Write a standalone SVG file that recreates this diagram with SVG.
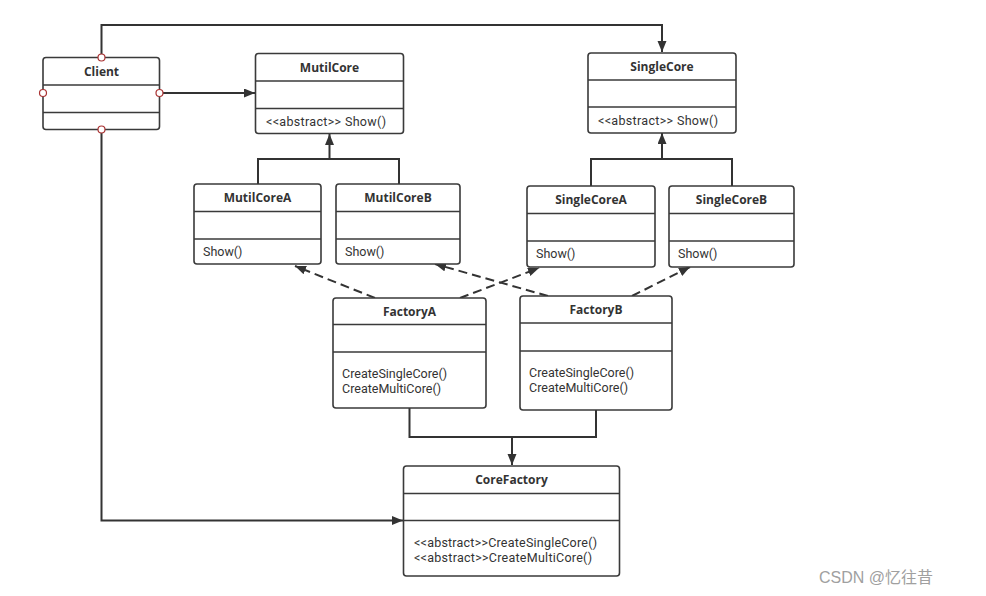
<svg xmlns="http://www.w3.org/2000/svg" width="986" height="596" viewBox="0 0 986 596">
<defs>
<marker id="arr" markerUnits="userSpaceOnUse" markerWidth="12" markerHeight="10" refX="11" refY="4.5" orient="auto">
<path d="M0,0 L11,4.5 L0,9 z" fill="#333"/>
</marker>
<style>
.box{fill:#fff;stroke:#3a3a3a;stroke-width:1.6}
.sep{stroke:#3a3a3a;stroke-width:1.6}
.t{font-family:"Open Sans","Noto Sans","Liberation Sans",sans-serif;font-size:12px;font-weight:bold;fill:#333;text-anchor:middle}
.m{font-family:Roboto,"Liberation Sans",sans-serif;font-size:12.5px;fill:#333}
.ln{fill:none;stroke:#333;stroke-width:2}
.dash{fill:none;stroke:#333;stroke-width:2;stroke-dasharray:9 5}
.pt{fill:#fff;stroke:#a33;stroke-width:1.2}
.wm{font-family:"Liberation Sans","Noto Sans CJK SC",sans-serif;font-size:16px;fill:#a0a0a0}
</style>
</defs>
<rect width="986" height="596" fill="#fff"/>

<g id="connectors">
<path class="ln" d="M101.5,57.5 V25 H662 V52" marker-end="url(#arr)"/>
<path class="ln" d="M159.5,93 H255" marker-end="url(#arr)"/>
<path class="ln" d="M101.5,129.5 V520.5 H403" marker-end="url(#arr)"/>
<path class="ln" d="M258,184 V159 H399 V184"/>
<path class="ln" d="M329.5,159 V134" marker-end="url(#arr)"/>
<path class="ln" d="M591,186 V159 H732 V186"/>
<path class="ln" d="M662,159 V133" marker-end="url(#arr)"/>
<path class="ln" d="M409.5,408 V437 H596 V410"/>
<path class="ln" d="M512,437 V465" marker-end="url(#arr)"/>
<path class="dash" d="M375,298 L295,266" marker-end="url(#arr)"/>
<path class="dash" d="M460,298 L539,268" marker-end="url(#arr)"/>
<path class="dash" d="M548,296 L435,264" marker-end="url(#arr)"/>
<path class="dash" d="M632,296 L690,267" marker-end="url(#arr)"/>
</g>

<g id="Client">
<rect class="box" x="43" y="57.5" width="116.5" height="72" rx="3"/>
<line class="sep" x1="43" y1="85" x2="159.5" y2="85"/>
<line class="sep" x1="43" y1="112.5" x2="159.5" y2="112.5"/>
<text class="t" x="101.5" y="75.5">Client</text>
<circle class="pt" cx="101.5" cy="57.5" r="3.5"/>
<circle class="pt" cx="43" cy="93" r="3.5"/>
<circle class="pt" cx="159.5" cy="93" r="3.5"/>
<circle class="pt" cx="101.5" cy="129.5" r="3.5"/>
</g>

<g id="MutilCore">
<rect class="box" x="255.5" y="53.5" width="148" height="80" rx="3"/>
<line class="sep" x1="255.5" y1="81" x2="403.5" y2="81"/>
<line class="sep" x1="255.5" y1="108.5" x2="403.5" y2="108.5"/>
<text class="t" x="329.5" y="71.5">MutilCore</text>
<text class="m" x="266" y="126" textLength="120" lengthAdjust="spacing">&lt;&lt;abstract&gt;&gt; Show()</text>
</g>

<g id="SingleCore">
<rect class="box" x="588" y="53" width="148" height="80" rx="3"/>
<line class="sep" x1="588" y1="80" x2="736" y2="80"/>
<line class="sep" x1="588" y1="107" x2="736" y2="107"/>
<text class="t" x="662" y="70.5">SingleCore</text>
<text class="m" x="598" y="125" textLength="120" lengthAdjust="spacing">&lt;&lt;abstract&gt;&gt; Show()</text>
</g>

<g id="MutilCoreA">
<rect class="box" x="194" y="184" width="127" height="80" rx="3"/>
<line class="sep" x1="194" y1="211.5" x2="321" y2="211.5"/>
<line class="sep" x1="194" y1="239" x2="321" y2="239"/>
<text class="t" x="257.5" y="202">MutilCoreA</text>
<text class="m" x="203" y="256">Show()</text>
</g>

<g id="MutilCoreB">
<rect class="box" x="336" y="184" width="124" height="80" rx="3"/>
<line class="sep" x1="336" y1="211.5" x2="460" y2="211.5"/>
<line class="sep" x1="336" y1="239" x2="460" y2="239"/>
<text class="t" x="398" y="202">MutilCoreB</text>
<text class="m" x="345" y="256">Show()</text>
</g>

<g id="SingleCoreA">
<rect class="box" x="527" y="186" width="128" height="81" rx="3"/>
<line class="sep" x1="527" y1="213.5" x2="655" y2="213.5"/>
<line class="sep" x1="527" y1="241" x2="655" y2="241"/>
<text class="t" x="591" y="204">SingleCoreA</text>
<text class="m" x="536" y="258">Show()</text>
</g>

<g id="SingleCoreB">
<rect class="box" x="669" y="186" width="125" height="81" rx="3"/>
<line class="sep" x1="669" y1="213.5" x2="794" y2="213.5"/>
<line class="sep" x1="669" y1="241" x2="794" y2="241"/>
<text class="t" x="731.5" y="204">SingleCoreB</text>
<text class="m" x="678" y="258">Show()</text>
</g>

<g id="FactoryA">
<rect class="box" x="333" y="298" width="153" height="110" rx="3"/>
<line class="sep" x1="333" y1="324.5" x2="486" y2="324.5"/>
<line class="sep" x1="333" y1="352" x2="486" y2="352"/>
<text class="t" x="409.5" y="315.5">FactoryA</text>
<text class="m" x="342" y="378">CreateSingleCore()</text>
<text class="m" x="342" y="393">CreateMultiCore()</text>
</g>

<g id="FactoryB">
<rect class="box" x="520" y="296" width="152" height="114" rx="3"/>
<line class="sep" x1="520" y1="323" x2="672" y2="323"/>
<line class="sep" x1="520" y1="351" x2="672" y2="351"/>
<text class="t" x="596" y="313.5">FactoryB</text>
<text class="m" x="529" y="377">CreateSingleCore()</text>
<text class="m" x="529" y="392">CreateMultiCore()</text>
</g>

<g id="CoreFactory">
<rect class="box" x="403.5" y="466" width="216" height="110" rx="3"/>
<line class="sep" x1="403.5" y1="493.5" x2="619.5" y2="493.5"/>
<line class="sep" x1="403.5" y1="520.5" x2="619.5" y2="520.5"/>
<text class="t" x="511.5" y="484">CoreFactory</text>
<text class="m" x="414" y="547" textLength="183" lengthAdjust="spacing">&lt;&lt;abstract&gt;&gt;CreateSingleCore()</text>
<text class="m" x="414" y="562" textLength="178" lengthAdjust="spacing">&lt;&lt;abstract&gt;&gt;CreateMultiCore()</text>
</g>

<text class="wm" x="819" y="583">CSDN @忆往昔</text>
</svg>
